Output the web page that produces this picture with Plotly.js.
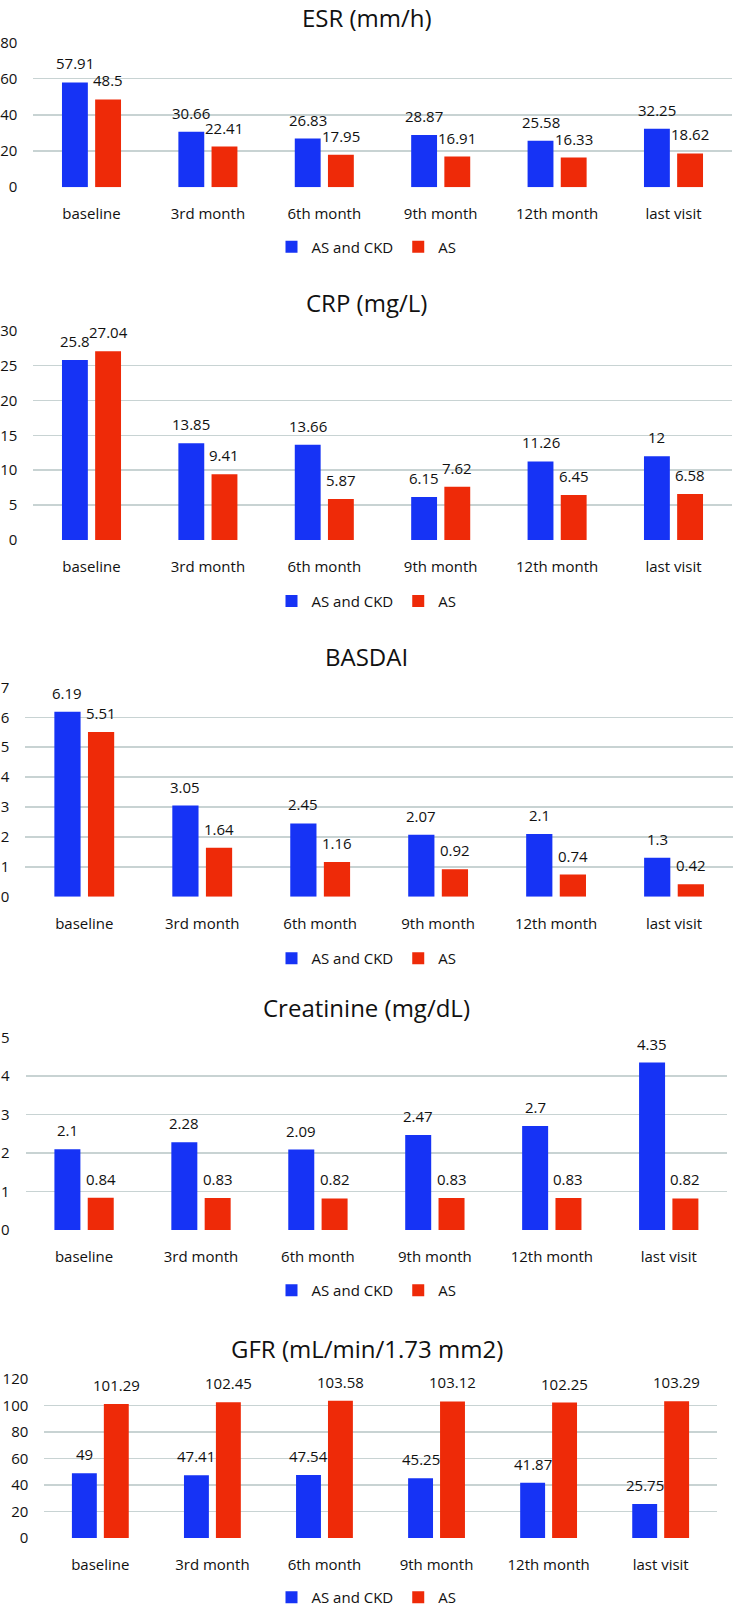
<!DOCTYPE html>
<html>
<head>
<meta charset="utf-8">
<script src="https://cdn.plot.ly/plotly-3.0.1.min.js"></script>
<style>
  html, body { margin: 0; padding: 0; background: #ffffff; }
  #chart { width: 733px; height: 1614px; }
</style>
</head>
<body>
<div id="chart"></div>
<script>
// ---- data ----
const categories = ['baseline', '3rd month', '6th month', '9th month', '12th month', 'last visit'];
const seriesNames = ['AS and CKD', 'AS'];
const panelTitles = ['ESR (mm/h)', 'CRP (mg/L)', 'BASDAI', 'Creatinine (mg/dL)', 'GFR (mL/min/1.73 mm2)'];

const esrCKD = [57.91, 30.66, 26.83, 28.87, 25.58, 32.25];
const esrAS = [48.5, 22.41, 17.95, 16.91, 16.33, 18.62];
const crpCKD = [25.8, 13.85, 13.66, 6.15, 11.26, 12];
const crpAS = [27.04, 9.41, 5.87, 7.62, 6.45, 6.58];
const basdaiCKD = [6.19, 3.05, 2.45, 2.07, 2.1, 1.3];
const basdaiAS = [5.51, 1.64, 1.16, 0.92, 0.74, 0.42];
const creatCKD = [2.1, 2.28, 2.09, 2.47, 2.7, 4.35];
const creatAS = [0.84, 0.83, 0.82, 0.83, 0.83, 0.82];
const gfrCKD = [49, 47.41, 47.54, 45.25, 41.87, 25.75];
const gfrAS = [101.29, 102.45, 103.58, 103.12, 102.25, 103.29];

const esrTicks = [0, 20, 40, 60, 80];
const crpTicks = [0, 5, 10, 15, 20, 25, 30];
const basdaiTicks = [0, 1, 2, 3, 4, 5, 6, 7];
const creatTicks = [0, 1, 2, 3, 4, 5];
const gfrTicks = [0, 20, 40, 60, 80, 100, 120];

// ---- layout geometry (pixels in the 733 x 1614 page) ----
const W = 733, H = 1614;
const panels = [
  { ckd: esrCKD, as: esrAS, ticks: esrTicks, title: panelTitles[0],
    left: 33.3, right: 731.7, top: 42.7, bottom: 188.3, titleY: 17.8, legendY: 248.5 },
  { ckd: crpCKD, as: crpAS, ticks: crpTicks, title: panelTitles[1],
    left: 33.3, right: 731.7, top: 332.7, bottom: 543.3, titleY: 304, legendY: 605 },
  { ckd: basdaiCKD, as: basdaiAS, ticks: basdaiTicks, title: panelTitles[2],
    left: 25.3, right: 733, top: 691.7, bottom: 902.3, titleY: 660.6, legendY: 964.4 },
  { ckd: creatCKD, as: creatAS, ticks: creatTicks, title: panelTitles[3],
    left: 25.6, right: 727.2, top: 1044, bottom: 1237.7, titleY: 1013.5, legendY: 1298.5 },
  { ckd: gfrCKD, as: gfrAS, ticks: gfrTicks, title: panelTitles[4],
    left: 44.3, right: 716.7, top: 1387.7, bottom: 1547.7, titleY: 1356.7, legendY: 1607.5 }
];

const BLUE = '#1633F5';
const RED = '#EE2A08';
const GRID = '#C8D3D3';
const TEXT = '#111111';
const FONT = 'Open Sans, Noto Sans, sans-serif';
const BARGAP = 0.43;
const GROUPGAP = 0.22;

const traces = [];
const annotations = [];
const layout = {
  width: W, height: H,
  margin: { l: 0, r: 0, t: 0, b: 0, pad: 0 },
  paper_bgcolor: '#ffffff',
  plot_bgcolor: '#ffffff',
  barmode: 'group',
  bargap: BARGAP,
  bargroupgap: GROUPGAP,
  font: { family: FONT, size: 15, color: TEXT },
  showlegend: true,
  annotations: annotations
};

const offset = (1 - BARGAP) / 4;

panels.forEach((p, k) => {
  const n = k + 1;
  const xa = n === 1 ? 'x' : 'x' + n;
  const ya = n === 1 ? 'y' : 'y' + n;
  const lg = n === 1 ? 'legend' : 'legend' + n;
  const xKey = n === 1 ? 'xaxis' : 'xaxis' + n;
  const yKey = n === 1 ? 'yaxis' : 'yaxis' + n;

  [[p.ckd, BLUE, seriesNames[0], -offset], [p.as, RED, seriesNames[1], offset]].forEach(([vals, color, name, dx]) => {
    traces.push({
      type: 'bar', x: categories, y: vals, name: name,
      xaxis: xa, yaxis: ya, legend: lg,
      marker: { color: color, line: { width: 0 } },
      hoverinfo: 'skip'
    });
    vals.forEach((v, i) => {
      annotations.push({
        xref: xa, yref: ya, x: i + dx, y: v,
        text: String(v), showarrow: false,
        xanchor: 'center', yanchor: 'middle', yshift: 19,
        font: { family: FONT, size: 15, color: TEXT }
      });
    });
  });

  const ymax = p.ticks[p.ticks.length - 1];
  layout[xKey] = {
    domain: [p.left / W, p.right / W],
    anchor: ya,
    type: 'category',
    categoryorder: 'array', categoryarray: categories,
    showgrid: false, zeroline: false, showline: false,
    ticks: '', ticklabelstandoff: 16,
    tickfont: { family: FONT, size: 15, color: TEXT },
    fixedrange: true
  };
  layout[yKey] = {
    domain: [1 - p.bottom / H, 1 - p.top / H],
    anchor: xa,
    range: [0, ymax],
    tickmode: 'array', tickvals: p.ticks,
    showgrid: true, gridcolor: GRID, gridwidth: 1.5,
    zeroline: false, showline: false,
    ticks: '', ticklabelstandoff: 15,
    tickfont: { family: FONT, size: 15, color: TEXT },
    fixedrange: true
  };
  layout[lg] = {
    orientation: 'h',
    x: 0.5, xanchor: 'center',
    y: 1 - p.legendY / H, yanchor: 'middle',
    font: { family: FONT, size: 15, color: TEXT },
    bgcolor: 'rgba(0,0,0,0)',
    itemwidth: 30,
    tracegroupgap: 0
  };
  annotations.push({
    xref: 'paper', yref: 'paper', x: 0.5, y: 1 - p.titleY / H,
    xanchor: 'center', yanchor: 'middle',
    text: p.title, showarrow: false,
    font: { family: FONT, size: 24, color: TEXT }
  });
});

Plotly.newPlot('chart', traces, layout, { staticPlot: true, displayModeBar: false });
</script>
</body>
</html>
